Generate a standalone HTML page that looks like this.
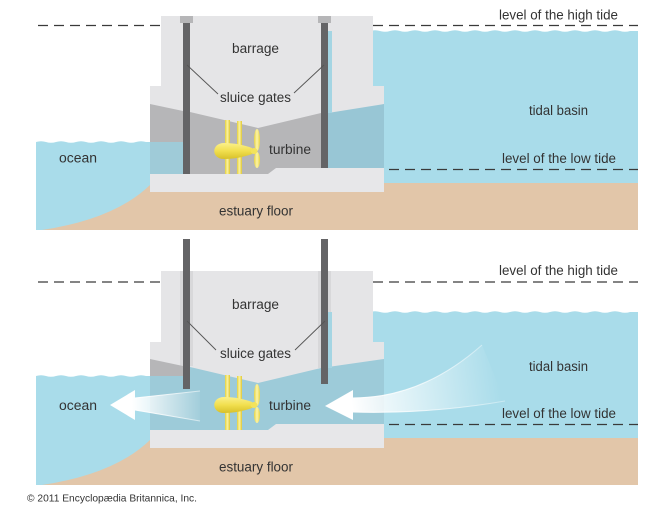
<!DOCTYPE html>
<html><head><meta charset="utf-8"><style>
html,body{margin:0;padding:0;background:#fff;}
svg{display:block;}
text{font-family:"Liberation Sans",Arial,sans-serif;fill:#333;}
</style></head><body>
<svg width="668" height="509" viewBox="0 0 668 509" xmlns="http://www.w3.org/2000/svg">
<defs>
<linearGradient id="body" x1="0" y1="0" x2="0" y2="1"><stop offset="0" stop-color="#fbf08a"/><stop offset="0.5" stop-color="#f1df4e"/><stop offset="1" stop-color="#d8c02a"/></linearGradient>
<linearGradient id="shaft" x1="0" y1="0" x2="1" y2="0"><stop offset="0" stop-color="#e6d23e"/><stop offset="0.5" stop-color="#fbf3a0"/><stop offset="1" stop-color="#dfc736"/></linearGradient>
<linearGradient id="blade" x1="0" y1="0" x2="1" y2="0"><stop offset="0" stop-color="#e8d444"/><stop offset="0.5" stop-color="#fcf4a6"/><stop offset="1" stop-color="#e8d444"/></linearGradient>
<linearGradient id="arL" gradientUnits="userSpaceOnUse" x1="132" y1="0" x2="204" y2="0"><stop offset="0" stop-color="#fff" stop-opacity="1"/><stop offset="1" stop-color="#fff" stop-opacity="0"/></linearGradient>
<linearGradient id="arLe" gradientUnits="userSpaceOnUse" x1="132" y1="0" x2="204" y2="0"><stop offset="0" stop-color="#fff" stop-opacity="1"/><stop offset="1" stop-color="#fff" stop-opacity="0.5"/></linearGradient>
<linearGradient id="arR" gradientUnits="userSpaceOnUse" x1="352" y1="405" x2="500" y2="385"><stop offset="0" stop-color="#fff" stop-opacity="1"/><stop offset="1" stop-color="#fff" stop-opacity="0"/></linearGradient>
<linearGradient id="arRe" gradientUnits="userSpaceOnUse" x1="352" y1="405" x2="505" y2="380"><stop offset="0" stop-color="#fff" stop-opacity="1"/><stop offset="1" stop-color="#fff" stop-opacity="0.35"/></linearGradient>
</defs>
<rect width="668" height="509" fill="#fff"/>

<!-- ================= TOP PANEL ================= -->
<!-- ocean -->
<path d="M36,142 q5,-1.6 10,0 t10,0 t10,0 t10,0 t10,0 t10,0 t10,0 t10,0 t10,0 t10,0 t10,0 L170,142 L170,230 L36,230 Z" fill="#a9dcea"/>
<!-- basin -->
<path d="M330,31 q5,-1.6 10,0 t10,0 t10,0 t10,0 t10,0 t10,0 t10,0 t10,0 t10,0 t10,0 t10,0 t10,0 t10,0 t10,0 t10,0 t10,0 t10,0 t10,0 t10,0 t10,0 t10,0 t10,0 t10,0 t10,0 t10,0 t10,0 t10,0 t10,0 t10,0 t10,0 L638,31 L638,184 L330,184 Z" fill="#a9dcea"/>
<!-- sand -->
<path d="M42,230 Q115,219 150,185 L150,183 L638,183 L638,230 Z" fill="#e2c6a9"/>
<!-- barrage -->
<rect x="161" y="16" width="212" height="71" fill="#e5e5e7"/>
<rect x="150" y="86" width="234" height="90" fill="#e5e5e7"/>
<polygon points="150,104 183,111 183,174 150,174" fill="#b6b6b8"/>
<rect x="150" y="142" width="33" height="32" fill="#9fcbd8"/>
<polygon points="190,112 258,128 321,113 321,174 190,174" fill="#b6b6b8"/>
<polygon points="328,113 384,104 384,174 328,174" fill="#98c6d5"/>
<rect x="328" y="31" width="4" height="82" fill="#a4d5e3"/>
<rect x="180" y="16" width="13" height="7" fill="#b6b6b8"/>
<rect x="318" y="16" width="13" height="7" fill="#b6b6b8"/>
<rect x="183" y="23" width="7" height="151" fill="#646466"/>
<rect x="321" y="23" width="7" height="151" fill="#646466"/>
<polygon points="150,174 268,174 276,168 384,168 384,192 150,192" fill="#e7e7e9"/>
<!-- turbine top -->
<rect x="225" y="120" width="5" height="54" fill="url(#shaft)"/>
<rect x="237" y="121" width="5" height="53" fill="url(#shaft)"/>
<path d="M224,143 C211,143 211,159 224,159 C234,159 244,157 252,154 L252,148 C244,145 234,143 224,143 Z" fill="url(#body)"/>
<ellipse cx="257" cy="140" rx="3" ry="11" fill="url(#blade)"/>
<ellipse cx="257" cy="160" rx="3" ry="8" fill="url(#blade)"/>
<ellipse cx="254" cy="151" rx="3.5" ry="3" fill="#f3e35a"/>
<!-- dashed lines -->
<g stroke="#3a3a3a" stroke-width="1.3" stroke-dasharray="10 6" fill="none">
<line x1="38" y1="25.5" x2="161" y2="25.5"/>
<line x1="373" y1="25.5" x2="638" y2="25.5"/>
<line x1="389" y1="169.5" x2="638" y2="169.5"/>
</g>
<!-- leaders -->
<g stroke="#555" stroke-width="0.9">
<line x1="187" y1="65" x2="218" y2="94"/>
<line x1="324" y1="65" x2="294" y2="93"/>
</g>
<!-- labels -->
<g font-size="13.5">
<text x="499" y="19.5" textLength="119" lengthAdjust="spacingAndGlyphs">level of the high tide</text>
<text x="529" y="115" textLength="59" lengthAdjust="spacingAndGlyphs">tidal basin</text>
<text x="502" y="163" textLength="114" lengthAdjust="spacingAndGlyphs">level of the low tide</text>
<text x="232" y="53" textLength="47" lengthAdjust="spacingAndGlyphs">barrage</text>
<text x="220" y="102" textLength="71" lengthAdjust="spacingAndGlyphs">sluice gates</text>
<text x="269" y="154" textLength="42" lengthAdjust="spacingAndGlyphs">turbine</text>
<text x="59" y="162.5" textLength="38" lengthAdjust="spacingAndGlyphs">ocean</text>
<text x="219" y="215.5" textLength="74" lengthAdjust="spacingAndGlyphs">estuary floor</text>
</g>

<!-- ================= BOTTOM PANEL ================= -->
<path d="M36,376 q5,-1.6 10,0 t10,0 t10,0 t10,0 t10,0 t10,0 t10,0 t10,0 t10,0 t10,0 t10,0 L170,376 L170,485 L36,485 Z" fill="#a9dcea"/>
<path d="M330,312 q5,-1.6 10,0 t10,0 t10,0 t10,0 t10,0 t10,0 t10,0 t10,0 t10,0 t10,0 t10,0 t10,0 t10,0 t10,0 t10,0 t10,0 t10,0 t10,0 t10,0 t10,0 t10,0 t10,0 t10,0 t10,0 t10,0 t10,0 t10,0 t10,0 t10,0 t10,0 L638,312 L638,439 L330,439 Z" fill="#a9dcea"/>
<path d="M42,485 Q115,474 150,440 L150,438 L638,438 L638,485 Z" fill="#e2c6a9"/>
<!-- barrage -->
<rect x="161" y="271" width="212" height="72" fill="#e5e5e7"/>
<rect x="150" y="342" width="234" height="88" fill="#e5e5e7"/>
<rect x="180" y="271" width="13" height="95" fill="#d8d8da"/>
<rect x="318" y="271" width="13" height="97" fill="#d8d8da"/>
<polygon points="150,359 183,366 183,430 150,430" fill="#b6b6b8"/>
<rect x="150" y="376" width="33" height="54" fill="#9dcbd9"/>
<polygon points="183,366 190,367 258,383 321,368 321,430 183,430" fill="#9dcbd9"/>
<polygon points="321,368 384,359 384,430 321,430" fill="#9dcbd9"/>
<rect x="328" y="312" width="4" height="56" fill="#a4d5e3"/>
<rect x="183" y="239" width="7" height="150" fill="#646466"/>
<rect x="321" y="239" width="7" height="145" fill="#646466"/>
<polygon points="150,430 268,430 276,424 384,424 384,448 150,448" fill="#e7e7e9"/>
<!-- arrows -->
<path d="M110,405 L135,390 L135,398 L200,391 L200,421 L135,410 L135,420 Z" fill="url(#arL)"/>
<g stroke="url(#arLe)" stroke-width="1" fill="none">
<line x1="135" y1="398" x2="200" y2="391"/>
<line x1="135" y1="410" x2="200" y2="421"/>
</g>
<path d="M325,406 L353,390 L353,398 Q422,398 482,345 L505,401 Q431,414 353,412 L353,420 Z" fill="url(#arR)"/>
<g stroke="url(#arRe)" stroke-width="1.1" fill="none">
<path d="M353,398 Q422,398 482,345"/>
<path d="M353,412 Q431,414 505,401"/>
</g>
<!-- turbine bottom -->
<rect x="225" y="375" width="5" height="55" fill="url(#shaft)"/>
<rect x="237" y="376" width="5" height="54" fill="url(#shaft)"/>
<path d="M224,397 C211,397 211,413 224,413 C234,413 244,411 252,408 L252,402 C244,399 234,397 224,397 Z" fill="url(#body)"/>
<ellipse cx="257" cy="395" rx="3" ry="11" fill="url(#blade)"/>
<ellipse cx="257" cy="415" rx="3" ry="8" fill="url(#blade)"/>
<ellipse cx="254" cy="405" rx="3.5" ry="3" fill="#f3e35a"/>
<!-- dashed -->
<g stroke="#3a3a3a" stroke-width="1.3" stroke-dasharray="10 6" fill="none">
<line x1="38" y1="282" x2="161" y2="282"/>
<line x1="373" y1="282" x2="638" y2="282"/>
<line x1="389" y1="424.5" x2="638" y2="424.5"/>
</g>
<g stroke="#555" stroke-width="0.9">
<line x1="187" y1="321" x2="216" y2="350"/>
<line x1="325" y1="321" x2="295" y2="350"/>
</g>
<g font-size="13.5">
<text x="499" y="275" textLength="119" lengthAdjust="spacingAndGlyphs">level of the high tide</text>
<text x="529" y="371" textLength="59" lengthAdjust="spacingAndGlyphs">tidal basin</text>
<text x="502" y="418" textLength="114" lengthAdjust="spacingAndGlyphs">level of the low tide</text>
<text x="232" y="309" textLength="47" lengthAdjust="spacingAndGlyphs">barrage</text>
<text x="220" y="358" textLength="71" lengthAdjust="spacingAndGlyphs">sluice gates</text>
<text x="269" y="410" textLength="42" lengthAdjust="spacingAndGlyphs">turbine</text>
<text x="59" y="410" textLength="38" lengthAdjust="spacingAndGlyphs">ocean</text>
<text x="219" y="471.5" textLength="74" lengthAdjust="spacingAndGlyphs">estuary floor</text>
</g>
<text x="27" y="501.5" font-size="10.5" textLength="170" lengthAdjust="spacingAndGlyphs">© 2011 Encyclopædia Britannica, Inc.</text>
</svg>
</body></html>
